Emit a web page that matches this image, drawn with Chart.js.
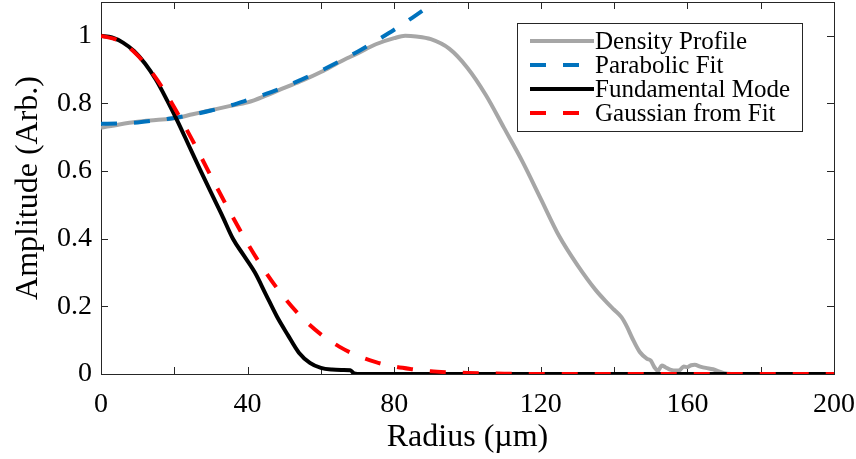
<!DOCTYPE html>
<html><head><meta charset="utf-8">
<script src="https://cdn.jsdelivr.net/npm/chart.js@4.4.0/dist/chart.umd.min.js"></script>
<style>html,body{margin:0;padding:0;background:#fff;overflow:hidden}canvas{display:block}</style>
</head><body>
<canvas id="c" width="856" height="459"></canvas>
<script>
// ---- data ----
const densityRadius = [0,5,10,15,20,25,30,35,40,45,50,55,60,65,70,75,80,83,86,90,95,100,105,110,115,120,125,130,135,138,140,142,143.5,145,147,149,150,151,152,153,154,155.5,157,158,159,160,161,162,163.5,165,167,169,170,172,180,190,200];
const densityValues = [0.728,0.738,0.746,0.751,0.756,0.768,0.780,0.792,0.803,0.823,0.846,0.868,0.893,0.922,0.948,0.975,0.993,1.0,0.998,0.99,0.962,0.905,0.825,0.727,0.628,0.518,0.408,0.322,0.248,0.212,0.19,0.168,0.14,0.105,0.065,0.045,0.04,0.02,0.01,0.025,0.02,0.012,0.01,0.012,0.022,0.02,0.026,0.027,0.022,0.018,0.014,0.006,0.002,0,0,0,0];

const fitRadius = [0,5,10,15,20,25,30,35,40,45,50,55,60,65,70,75,80,85,90,93];
const fitValues = [0.740,0.741,0.744,0.750,0.757,0.767,0.779,0.793,0.810,0.828,0.849,0.872,0.897,0.924,0.953,0.985,1.018,1.054,1.092,1.116];

const modeRadius = [0,3,6,9,12,15,18,21,24,27,30,33,36,39,42,45,48,51,54,57,60,63,66,68,69,70,200];
const modeValues = [1.0,0.995,0.98,0.955,0.918,0.87,0.81,0.745,0.675,0.605,0.537,0.47,0.40,0.35,0.30,0.235,0.17,0.115,0.063,0.033,0.018,0.013,0.012,0.011,0.002,0,0];

const gaussRadius = [0,5,10,15,20,25,30,35,40,45,50,55,60,65,70,75,80,85,90,95,100,110,120,200];
const gaussValues = [1.0,0.985,0.942,0.875,0.788,0.690,0.585,0.483,0.386,0.300,0.226,0.165,0.117,0.081,0.054,0.035,0.022,0.014,0.008,0.005,0.003,0.001,0,0];

const seriesLabels = ['Density Profile','Parabolic Fit','Fundamental Mode','Gaussian from Fit'];
const xTicks = [0,20,40,60,80,100,120,140,160,180,200];
const xTickLabels = ['0','','40','','80','','120','','160','','200'];
const yTicks = [0,0.2,0.4,0.6,0.8,1];
const yTickLabels = ['0','0.2','0.4','0.6','0.8','1'];
const xTitle = 'Radius (\u00b5m)';
const yTitle = 'Amplitude (Arb.)';

// ---- chart ----
const FONT = "'Liberation Serif','DejaVu Serif',serif";
const AXIS_COLOR = '#262626';
const pts = (xs, ys) => xs.map((x, i) => ({x: x, y: ys[i]}));
const noPad = s => { s.paddingTop = 0; s.paddingBottom = 0; s.paddingLeft = 0; s.paddingRight = 0; };

const frameTicks = {
  id: 'frameTicks',
  beforeDatasetsDraw(chart) {
    const {ctx, chartArea: a, scales: {x, y}} = chart;
    const L = 7;
    ctx.save();
    ctx.strokeStyle = AXIS_COLOR;
    ctx.lineWidth = 1;
    ctx.beginPath();
    x.ticks.forEach(t => {
      const px = Math.round(x.getPixelForValue(t.value)) + 0.5;
      ctx.moveTo(px, a.bottom); ctx.lineTo(px, a.bottom - L);
      ctx.moveTo(px, a.top); ctx.lineTo(px, a.top + L);
    });
    y.ticks.forEach(t => {
      const py = Math.round(y.getPixelForValue(t.value)) + 0.5;
      ctx.moveTo(a.left, py); ctx.lineTo(a.left + L, py);
      ctx.moveTo(a.right, py); ctx.lineTo(a.right - L, py);
    });
    ctx.stroke();
    ctx.strokeRect(Math.round(a.left) + 0.5, Math.round(a.top) + 0.5, Math.round(a.right - a.left), Math.round(a.bottom - a.top));
    ctx.restore();
  }
};

const boxLegend = {
  id: 'boxLegend',
  afterDraw(chart) {
    const {ctx} = chart;
    const bx = 517, by = 23, bw = 285, bh = 108;
    ctx.save();
    ctx.fillStyle = '#fff';
    ctx.fillRect(bx, by, bw, bh);
    ctx.strokeStyle = AXIS_COLOR;
    ctx.lineWidth = 1;
    ctx.strokeRect(bx + 0.5, by + 0.5, bw, bh);
    ctx.font = '25px ' + FONT;
    ctx.textBaseline = 'middle';
    ctx.textAlign = 'left';
    chart.data.datasets.forEach((ds, i) => {
      const cy = 41 + i * 24;
      ctx.strokeStyle = ds.borderColor;
      ctx.lineWidth = ds.borderWidth;
      ctx.setLineDash(ds.borderDash || []);
      ctx.beginPath();
      ctx.moveTo(530, cy); ctx.lineTo(594, cy);
      ctx.stroke();
      ctx.setLineDash([]);
      ctx.fillStyle = '#000';
      ctx.fillText(ds.label, 595, cy + 1);
    });
    ctx.restore();
  }
};

new Chart(document.getElementById('c'), {
  type: 'line',
  data: {
    datasets: [
      {label: seriesLabels[0], data: pts(densityRadius, densityValues), borderColor: 'rgb(166,166,166)', borderWidth: 4, order: 4},
      {label: seriesLabels[1], data: pts(fitRadius, fitValues), borderColor: 'rgb(0,114,189)', borderWidth: 4, borderDash: [16,17], order: 3},
      {label: seriesLabels[2], data: pts(modeRadius, modeValues), borderColor: 'rgb(0,0,0)', borderWidth: 4, order: 2},
      {label: seriesLabels[3], data: pts(gaussRadius, gaussValues), borderColor: 'rgb(255,0,0)', borderWidth: 4, borderDash: [16,17], order: 1}
    ]
  },
  options: {
    responsive: false,
    animation: false,
    devicePixelRatio: 1,
    layout: {padding: {top: 2, right: 22, left: 0, bottom: 0}},
    elements: {point: {radius: 0}, line: {cubicInterpolationMode: 'monotone', borderCapStyle: 'butt'}},
    plugins: {legend: {display: false}, tooltip: {enabled: false}},
    scales: {
      x: {
        type: 'linear', min: 0, max: 200,
        grid: {display: false, drawTicks: false},
        border: {display: false},
        afterBuildTicks: s => { s.ticks = xTicks.map(v => ({value: v})); },
        afterFit: s => { s.height = 85; noPad(s); },
        ticks: {
          autoSkip: false, maxRotation: 0, padding: 14, color: '#000',
          font: {family: FONT, size: 28},
          callback: v => { const i = xTicks.indexOf(v); return i >= 0 ? xTickLabels[i] : ''; }
        },
        title: {display: true, text: xTitle, color: '#000', font: {family: FONT, size: 32}, padding: {top: 0, bottom: 2}}
      },
      y: {
        type: 'linear', min: 0, max: 1.1,
        grid: {display: false, drawTicks: false},
        border: {display: false},
        afterBuildTicks: s => { s.ticks = yTicks.map(v => ({value: v})); },
        afterFit: s => { s.width = 101; noPad(s); },
        ticks: {
          autoSkip: false, padding: 9, color: '#000',
          font: {family: FONT, size: 28},
          callback: v => { const i = yTicks.findIndex(t => Math.abs(t - v) < 1e-9); return i >= 0 ? yTickLabels[i] : ''; }
        },
        title: {display: true, text: yTitle, color: '#000', font: {family: FONT, size: 32}, padding: {top: 9, bottom: 0}}
      }
    }
  },
  plugins: [frameTicks, boxLegend]
});
</script>
</body></html>
